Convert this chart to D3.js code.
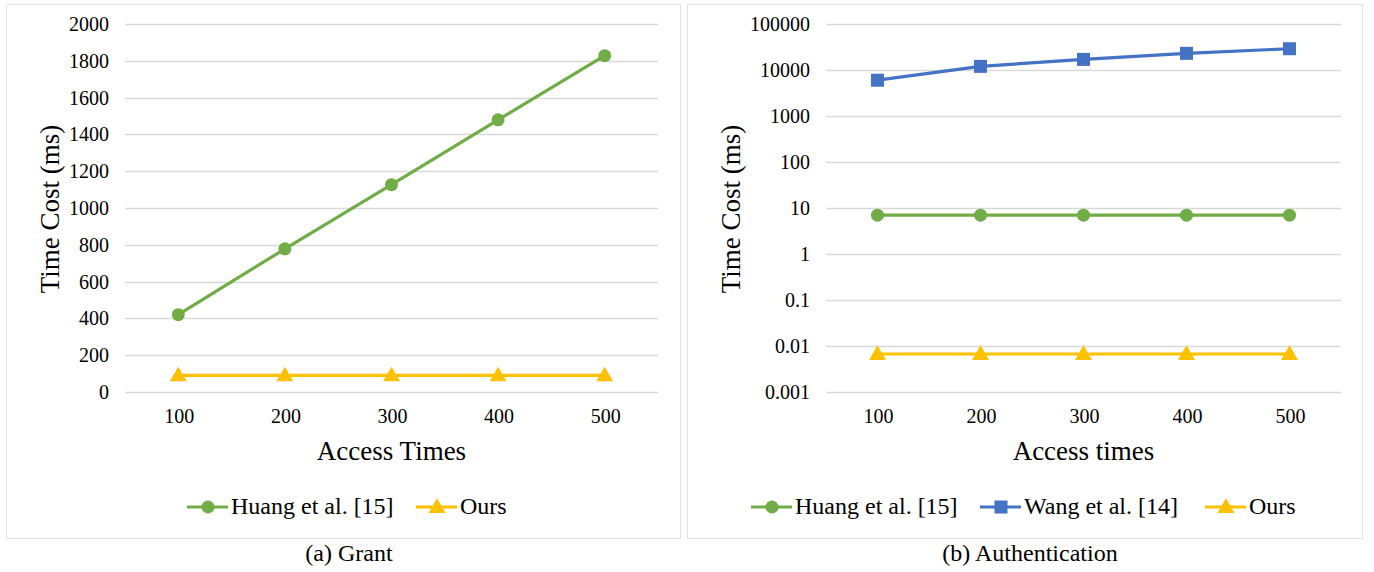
<!DOCTYPE html>
<html>
<head>
<meta charset="utf-8">
<script src="https://cdn.jsdelivr.net/npm/d3@7"></script>
<style>
  body { margin: 0; background: #fff; }
  text { font-family: "Liberation Serif", "Times New Roman", serif; fill: #000; }
</style>
</head>
<body>
<div id="chart"></div>
<script>
var accessTimes = [100, 200, 300, 400, 500];

// (a) Grant
var grantHuang = [420, 778, 1127, 1479, 1828];
var grantOurs = [90, 90, 90, 90, 90];
var grantTicks = [0, 200, 400, 600, 800, 1000, 1200, 1400, 1600, 1800, 2000];

// (b) Authentication
var authHuang = [7, 7, 7, 7, 7];
var authWang = [6000, 12000, 17000, 23000, 29000];
var authOurs = [0.0067, 0.0067, 0.0067, 0.0067, 0.0067];
var authTicks = [0.001, 0.01, 0.1, 1, 10, 100, 1000, 10000, 100000];

var GREEN = '#70ad47', BLUE = '#4472c4', GOLD = '#ffc000';

var svg = d3.select('#chart').append('svg')
	.attr('width', 1374)
	.attr('height', 572);

function drawMarker(g, shape, color, x, y) {
	if (shape === 'circle') {
		g.append('circle').attr('cx', x).attr('cy', y).attr('r', 6.5).attr('fill', color);
	} else if (shape === 'square') {
		g.append('rect').attr('x', x - 6.5).attr('y', y - 6.5).attr('width', 13).attr('height', 13).attr('fill', color);
	} else {
		g.append('path').attr('d', d3.symbol(d3.symbolTriangle, 125)()).attr('transform', 'translate(' + x + ',' + (y + 1) + ')').attr('fill', color);
	}
}

function panel(opt) {
	var g = svg.append('g');

	// frame
	g.append('rect')
		.attr('x', opt.frame[0] + 0.5).attr('y', 4.5)
		.attr('width', opt.frame[1] - opt.frame[0]).attr('height', 534)
		.attr('fill', 'none').attr('stroke', '#e3e3e3');

	var x = d3.scaleBand().domain(accessTimes).range(opt.xRange);
	var y = opt.y;

	// gridlines
	g.selectAll('.grid').data(opt.ticks).enter().append('line')
		.attr('x1', opt.xRange[0]).attr('x2', opt.xRange[1])
		.attr('y1', function(d){ return Math.round(y(d)) + 0.5; })
		.attr('y2', function(d){ return Math.round(y(d)) + 0.5; })
		.attr('stroke', '#d9d9d9').attr('stroke-width', 1.3);

	// y tick labels
	g.selectAll('.ytick').data(opt.ticks).enter().append('text')
		.attr('x', opt.xRange[0] - 16)
		.attr('y', function(d){ return y(d) + 7; })
		.attr('text-anchor', 'end')
		.style('font-size', '20px')
		.text(function(d){ return opt.fmt(d); });

	// x tick labels
	g.selectAll('.xtick').data(accessTimes).enter().append('text')
		.attr('x', function(d){ return x(d) + x.bandwidth() / 2 + 1; })
		.attr('y', 423)
		.attr('text-anchor', 'middle')
		.style('font-size', '20px')
		.text(function(d){ return d; });

	// axis titles
	g.append('text')
		.attr('x', (opt.xRange[0] + opt.xRange[1]) / 2)
		.attr('y', 460)
		.attr('text-anchor', 'middle')
		.style('font-size', '27px')
		.text(opt.xTitle);

	g.append('text')
		.attr('transform', 'translate(' + opt.yTitleX + ',209) rotate(-90)')
		.attr('text-anchor', 'middle')
		.style('font-size', '27px')
		.text('Time Cost (ms)');

	// series
	var line = d3.line()
		.x(function(d, i){ return x(accessTimes[i]) + x.bandwidth() / 2; })
		.y(function(d){ return y(d); });

	opt.series.forEach(function(s) {
		g.append('path')
			.attr('d', line(s.values))
			.attr('fill', 'none')
			.attr('stroke', s.color)
			.attr('stroke-width', 3.2);
		s.values.forEach(function(v, i) {
			drawMarker(g, s.shape, s.color, x(accessTimes[i]) + x.bandwidth() / 2, y(v));
		});
	});

	// legend
	opt.series.forEach(function(s, i) {
		var lx = opt.legendX[i];
		g.append('line')
			.attr('x1', lx).attr('x2', lx + 41)
			.attr('y1', 507).attr('y2', 507)
			.attr('stroke', s.color).attr('stroke-width', 3.2);
		drawMarker(g, s.shape, s.color, lx + 21, 507);
		g.append('text')
			.attr('x', lx + 44)
			.attr('y', 514)
			.style('font-size', '24px')
			.text(s.name);
	});

	// caption
	g.append('text')
		.attr('x', opt.captionX)
		.attr('y', 561)
		.attr('text-anchor', 'middle')
		.style('font-size', '24px')
		.text(opt.caption);
}

panel({
	frame: [6, 680],
	xRange: [125, 658],
	y: d3.scaleLinear().domain([0, 2000]).range([392, 24]),
	ticks: grantTicks,
	fmt: function(d){ return d; },
	xTitle: 'Access Times',
	yTitleX: 59,
	series: [
		{ name: 'Huang et al. [15]', values: grantHuang, color: GREEN, shape: 'circle' },
		{ name: 'Ours', values: grantOurs, color: GOLD, shape: 'triangle' }
	],
	legendX: [187, 416],
	caption: '(a) Grant',
	captionX: 349
});

panel({
	frame: [687, 1362],
	xRange: [826, 1341],
	y: d3.scaleLog().domain([0.001, 100000]).range([392, 24]),
	ticks: authTicks,
	fmt: function(d){ return d >= 1 ? d3.format('d')(d) : String(+d.toPrecision(1)); },
	xTitle: 'Access times',
	yTitleX: 740,
	series: [
		{ name: 'Huang et al. [15]', values: authHuang, color: GREEN, shape: 'circle' },
		{ name: 'Wang et al. [14]', values: authWang, color: BLUE, shape: 'square' },
		{ name: 'Ours', values: authOurs, color: GOLD, shape: 'triangle' }
	],
	legendX: [751, 980, 1205],
	caption: '(b) Authentication',
	captionX: 1030
});
</script>
</body>
</html>
